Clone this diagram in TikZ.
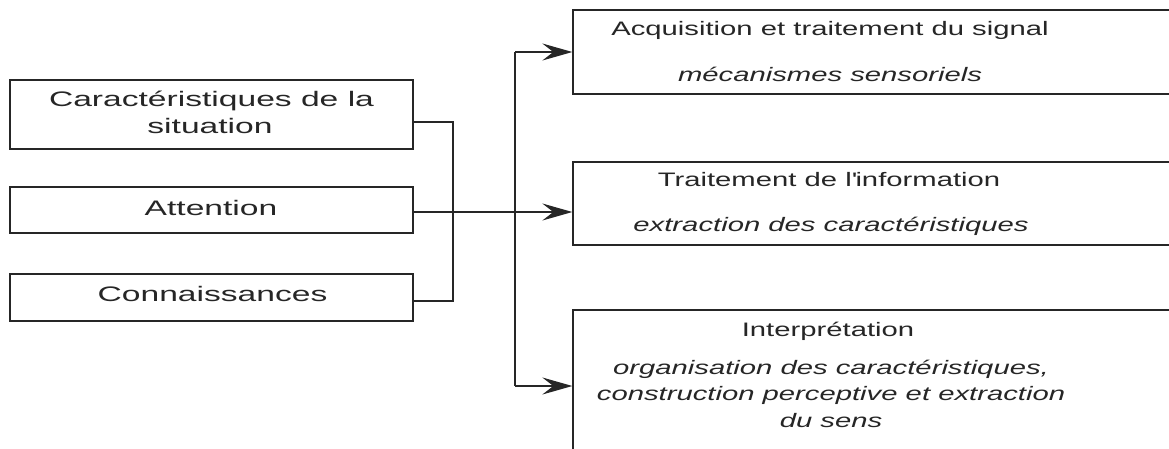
\documentclass[tikz,border=0pt]{standalone}
\usepackage{fontspec}
\setmainfont{Liberation Sans}[FakeStretch=1.5]
\newfontfamily\inputfont{Liberation Sans}[FakeStretch=1.6]
\usetikzlibrary{arrows.meta}
\begin{document}
\begin{tikzpicture}[x=1pt,y=-1pt,
  box/.style={draw=black!85, line width=1.3pt, inner sep=0, minimum width=#1},
  txt/.style={anchor=base, inner sep=0, font=\fontsize{19.5}{27}\selectfont, text=black!85},
  ltx/.style={txt, font=\inputfont\fontsize{21}{27}\selectfont},
  itx/.style={txt, font=\fontsize{19.5}{27}\selectfont\itshape},
  wire/.style={draw=black!85, line width=1.3pt},
  arr/.style={wire, -{Stealth[length=30pt,width=17pt,inset=11pt]}}]
\clip (0,0) rectangle (1169,448);
\fill[white] (0,0) rectangle (1169,448);

% input boxes
\node[box=403, minimum height=69] (sit) at (211.5,114.5) {};
\node[box=403, minimum height=46] (att) at (211.5,210) {};
\node[box=403, minimum height=47] (con) at (211.5,297.5) {};

% process boxes (running past the right and bottom edges)
\node[box=612, minimum height=84]  (acq) at (879,52) {};
\node[box=612, minimum height=83]  (tra) at (879,203.5) {};
\node[box=612, minimum height=160] (int) at (879,390) {};

% input texts
\node[ltx] (t1) at (211.5,106) {Caractéristiques de la};
\node[ltx] (t2) at (210,133) {situation};
\node[ltx] (t3) at (211,215.5) {Attention};
\node[ltx] (t4) at (212.5,301.5) {Connaissances};

% process texts
\node[txt] (a1) at (830,35.5) {Acquisition et traitement du signal};
\node[itx] (a2) at (830,81) {mécanismes sensoriels};
\node[txt] (b1) at (829,186.5) {Traitement de l\textquotesingle information};
\node[itx] (b2) at (831,231) {extraction des caractéristiques};
\node[txt] (c1) at (828,336) {Interprétation};
\node[itx] (c2) at (831,374) {organisation des caractéristiques,};
\node[itx] (c3) at (831,400.5) {construction perceptive et extraction};
\node[itx] (c4) at (831,427) {du sens};

% joints and bus
\coordinate (j1) at (453,122);
\coordinate (j3) at (453,301);
\coordinate (bt) at (515,52);
\coordinate (bb) at (515,386);

\draw[wire] (sit.east |- j1) -- (j1) -- (j3) -- (con.east |- j3);
\draw[wire] (bt) -- (bb);
\draw[arr] (att.east |- 0,212) -- (tra.west |- 0,212);
\draw[arr] (bt) -- (acq.west |- bt);
\draw[arr] (bb) -- (int.west |- bb);
\end{tikzpicture}
\end{document}
